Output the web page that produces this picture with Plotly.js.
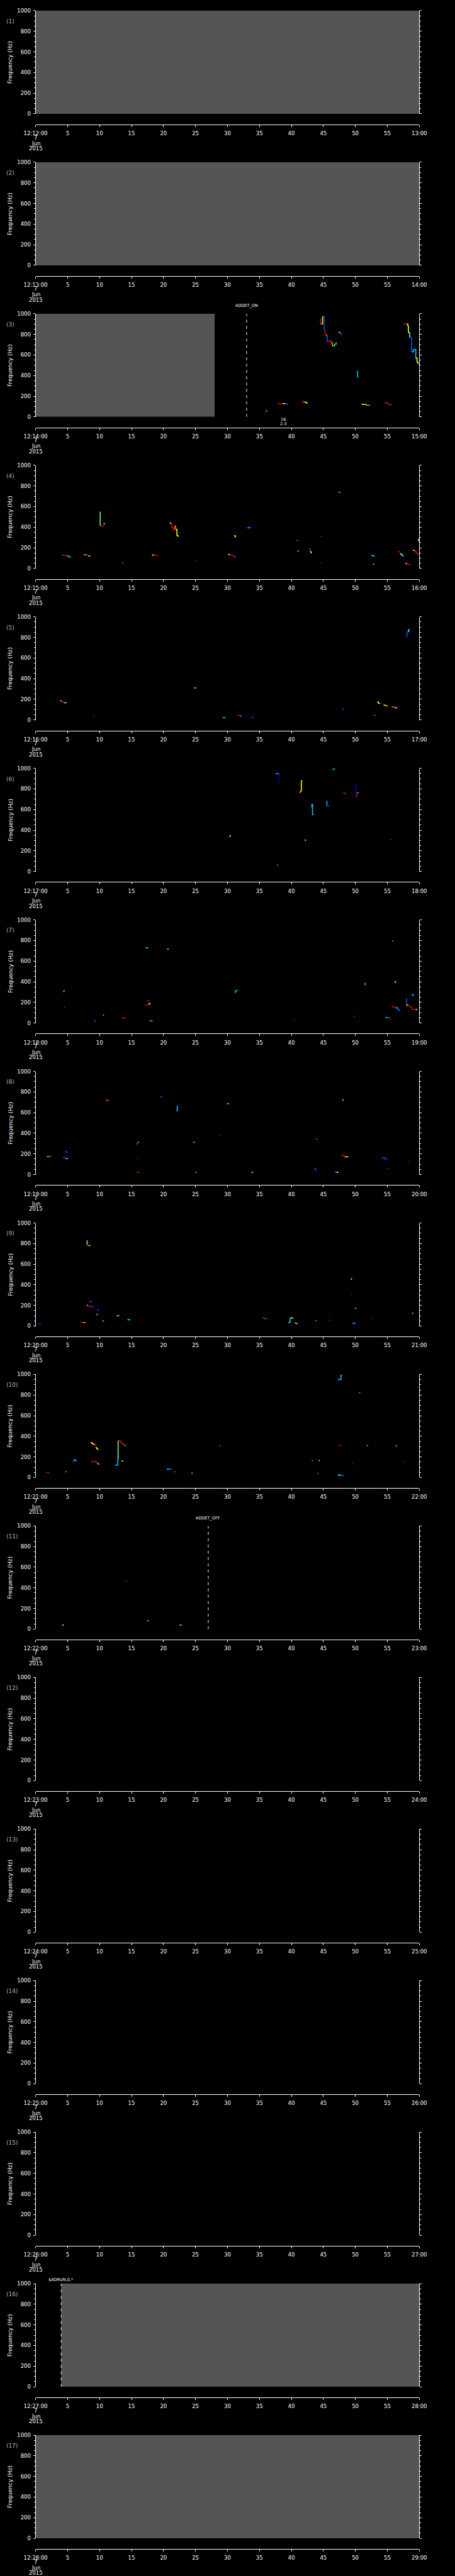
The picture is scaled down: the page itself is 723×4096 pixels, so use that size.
<!DOCTYPE html>
<html>
<head>
<meta charset="utf-8">
<script src="https://cdn.plot.ly/plotly-3.0.1.min.js"></script>
<style>html,body{margin:0;padding:0;background:#000;}#chart{width:723px;height:4096px;}</style>
</head>
<body>
<div id="chart"></div>
<script>
// ---------------- DATA ----------------
const panelNumbers = [1,2,3,4,5,6,7,8,9,10,11,12,13,14,15,16,17];
const panelMinutes = [12,13,14,15,16,17,18,19,20,21,22,23,24,25,26,27,28];
const tickSeconds = [0,5,10,15,20,25,30,35,40,45,50,55,60];
const tickMidLabels = ['5','10','15','20','25','30','35','40','45','50','55'];
const dateLines = ['7','Jun','2015'];
const freqTicks = [0,200,400,600,800,1000];

// missing-data (grey) intervals, seconds
const gapPanels = [1,2,3,16,17];
const gapStart  = [0,0,0,4,0];
const gapEnd    = [60,60,28,60,60];

// event markers
const eventPanels = [3,11,16];
const eventTimes  = [33,27,4];
const eventLabels = ['ADDET_ON','ADDET_OFF','$ADRUN,0,*'];

// small note below panel 3
const notePanel = 3;
const noteTime = 38.7;
const noteLines = ['16','2.3'];

// colour levels (jet-like)
const jetColors = ['#0000b4','#0050ff','#00c8ff','#60ffa8','#ffff00','#ff9600','#d20000'];

// tracks: [seconds, frequency Hz, colour level]
const tracks3 = [
 [[44.5,945,6],[44.55,900,2],[44.85,900,4],[44.87,970,5],[45.1,970,1],[45.12,845,6],[45.25,800,6],[45.4,790,2],[45.55,780,1],[45.6,730,1],[45.75,730,6],[45.95,740,6],[46.2,720,5],[46.4,690,5],[46.6,690,3],[46.75,705,2],[47.0,725,2]],
 [[47.35,820,5],[47.55,812,1],[47.75,795,0],[47.9,785,0]],
 [[50.3,385,2],[50.35,448,0]],
 [[57.5,900,6],[57.75,905,6],[58.0,900,4],[58.2,880,4],[58.3,815,3],[58.5,770,1],[58.75,770,1],[58.8,630,2],[59.0,630,2],[59.1,655,2],[59.4,655,2],[59.45,570,4],[59.65,530,4],[59.8,515,1],[60,510,1]],
 [[36.0,55,2],[36.1,65,2]],
 [[37.9,129,6],[38.6,129,4],[39.0,125,1],[39.4,120,0]],
 [[41.65,150,6],[41.9,143,5],[42.2,140,4],[42.4,130,1],[42.55,128,1]],
 [[51.0,122,4],[51.4,122,5],[51.7,112,2],[52.3,112,2]],
 [[54.5,136,6],[55.05,125,6],[55.3,117,1],[55.6,112,1]]
];
const tracks4 = [
 [[4.1,129,1],[4.3,125,6],[4.9,120,2],[5.2,110,2],[5.45,107,1]],
 [[7.55,132,5],[7.9,130,6],[8.2,122,3],[8.45,114,2]],
 [[10.05,545,3],[10.1,412,6],[10.4,408,6],[10.75,408,6]],
 [[10.6,432,4],[10.75,440,4]],
 [[11.15,595,0],[11.25,585,0]],
 [[13.55,54,2],[13.7,54,2]],
 [[18.2,129,4],[18.5,129,6],[18.85,123,6],[19.1,119,1]],
 [[21.05,447,3],[21.1,430,6],[21.3,395,6],[21.5,372,6],[21.7,408,5],[21.9,378,4],[22.1,315,4],[22.3,308,1]],
 [[25.1,76,1],[25.25,76,1]],
 [[30.1,136,4],[30.3,129,6],[30.7,125,6],[30.95,115,1],[31.2,103,1]],
 [[31.05,315,4],[31.25,300,1]],
 [[32.95,394,6],[33.2,394,2],[33.5,400,0],[33.65,423,0]],
 [[40.75,272,1],[41.1,272,1]],
 [[40.95,168,4],[41.15,168,4]],
 [[42.85,189,1],[42.95,160,4],[43.1,145,3]],
 [[44.6,54,1],[44.75,54,1]],
 [[44.5,311,6],[44.75,311,5]],
 [[47.35,738,5],[47.65,738,6]],
 [[52.45,125,2],[52.8,120,2],[52.95,112,1]],
 [[52.75,40,4],[52.9,38,4]],
 [[56.65,162,6],[56.9,160,6],[57.0,140,3],[57.25,125,2],[57.5,115,2]],
 [[57.8,48,5],[58.0,40,6],[58.3,37,6],[58.55,36,1]],
 [[59.0,175,4],[59.2,170,6],[59.45,150,6],[59.7,140,6],[59.9,136,6],[60,139,2]],
 [[59.8,283,3],[59.9,262,2]]
];
const tracks5 = [
 [[3.85,186,3],[4.0,178,6],[4.25,172,6],[4.45,165,3],[4.6,168,4],[4.75,172,1]],
 [[9.0,39,1],[9.1,36,0]],
 [[24.7,312,1],[24.9,310,4],[25.0,305,3]],
 [[29.2,23,2],[29.7,23,2]],
 [[31.5,43,6],[31.95,40,2],[32.2,39,2]],
 [[33.75,23,1],[34.1,23,1]],
 [[47.9,105,1],[48.25,105,1]],
 [[52.8,44,1],[53.2,44,1]],
 [[53.45,175,4],[53.6,160,4],[53.8,155,1]],
 [[54.4,143,4],[54.7,137,5],[54.95,130,1],[55.05,128,1]],
 [[55.7,126,5],[55.9,124,6],[56.1,120,4],[56.4,115,1],[56.6,117,1]],
 [[58.0,809,1],[58.05,840,1],[58.2,860,3],[58.35,878,1],[58.55,875,1]]
];
const tracks6 = [
 [[30.15,337,1],[30.35,345,4],[30.55,345,5]],
 [[37.55,948,2],[37.9,948,2],[38.0,945,0],[38.05,863,0]],
 [[37.75,63,2],[37.9,63,1]],
 [[41.3,765,5],[41.4,780,4],[41.55,880,4],[41.65,878,3]],
 [[42.1,305,3],[42.2,295,2]],
 [[43.1,628,2],[43.2,652,2],[43.3,550,2],[43.45,548,2]],
 [[45.5,681,2],[45.55,635,6],[45.7,632,1],[45.95,632,1]],
 [[46.45,988,2],[46.6,998,2],[46.8,1000,2]],
 [[48.05,762,6],[48.25,758,6],[48.4,750,1],[48.5,745,2]],
 [[50.05,839,0],[50.1,725,1],[50.2,730,6],[50.25,765,5],[50.45,767,5]],
 [[55.4,311,6],[55.65,311,1]]
];
const tracks7 = [
 [[4.3,304,5],[4.4,312,4],[4.55,312,3]],
 [[4.4,155,1],[4.6,155,2]],
 [[9.15,20,1],[9.45,20,2]],
 [[10.5,77,3],[10.7,77,4]],
 [[13.45,50,6],[13.75,46,6],[14.0,43,5]],
 [[17.1,175,6],[17.55,175,6],[17.65,190,4],[17.85,178,2]],
 [[17.45,215,1],[17.7,210,0]],
 [[17.2,730,2],[17.5,722,1]],
 [[17.85,21,2],[18.3,21,1]],
 [[20.5,717,2],[20.75,710,3]],
 [[31.15,297,2],[31.25,313,2],[31.6,313,3]],
 [[40.3,21,1],[40.45,21,1]],
 [[49.8,64,6],[50.0,64,6]],
 [[51.45,385,2],[51.55,365,1]],
 [[54.7,53,2],[55.1,52,6],[55.35,46,1],[55.55,46,1]],
 [[55.7,160,6],[55.95,152,6],[56.4,150,2],[56.55,135,1],[56.75,125,1],[56.95,115,0]],
 [[55.75,795,5],[55.85,790,6]],
 [[56.15,400,4],[56.3,390,1]],
 [[57.95,236,1],[58.0,172,4],[58.2,167,6],[58.5,155,6],[58.75,148,6],[58.85,132,6],[59.3,132,6],[59.4,130,4],[59.6,128,4]],
 [[58.8,275,2],[59.0,265,1],[59.1,261,1]]
];
const tracks8 = [
 [[1.75,174,5],[2.15,174,6],[2.25,177,3],[2.4,177,2]],
 [[4.3,168,1],[4.45,157,6],[4.65,155,2],[5.1,155,1]],
 [[4.65,225,1],[4.75,222,1],[4.85,206,1]],
 [[10.95,726,6],[11.1,715,5],[11.3,712,1]],
 [[15.7,294,6],[15.85,305,1],[16.0,313,2],[16.2,313,2]],
 [[16.05,155,1],[16.15,155,1]],
 [[15.85,21,6],[16.25,21,1]],
 [[19.45,752,1],[19.85,752,1]],
 [[22.05,616,2],[22.15,665,1],[22.25,665,1]],
 [[24.65,312,2],[24.85,310,1]],
 [[25.0,21,2],[25.2,21,2]],
 [[28.7,383,1],[28.9,383,2]],
 [[29.75,686,6],[30.05,686,4],[30.25,686,5]],
 [[33.75,21,3],[34.0,21,2]],
 [[43.6,56,1],[43.75,46,1],[43.95,50,1]],
 [[43.9,344,2],[44.05,344,1]],
 [[46.75,21,1],[47.05,21,4],[47.35,21,1]],
 [[48.0,730,2],[48.05,712,2]],
 [[47.9,187,6],[48.1,178,6],[48.35,172,4],[48.6,173,3],[48.85,177,3]],
 [[54.15,160,1],[54.5,160,1],[54.7,150,1],[54.9,145,0],[55.05,145,0]],
 [[55.05,56,1],[55.25,56,2]],
 [[58.35,127,1],[58.45,125,0]]
];
const tracks9 = [
 [[0.45,24,1],[0.85,24,2]],
 [[7.0,36,6],[7.35,35,5],[7.6,32,5],[7.85,32,4]],
 [[8.0,828,3],[8.05,785,6],[8.25,781,4],[8.55,781,5]],
 [[8.35,236,1],[8.55,242,1],[8.75,247,1]],
 [[8.0,203,5],[8.1,195,6],[8.35,191,6],[8.7,186,1],[9.0,188,1]],
 [[9.6,158,1],[9.8,165,1]],
 [[9.5,112,2],[9.65,105,1]],
 [[10.45,49,3],[10.7,49,3]],
 [[12.65,100,5],[13.1,100,5]],
 [[14.35,62,2],[14.8,62,1]],
 [[35.45,79,6],[35.75,70,1],[36.3,70,0]],
 [[39.5,36,2],[39.8,79,3],[39.9,79,4],[40.2,72,4]],
 [[39.75,2,2],[39.85,2,2]],
 [[40.55,29,4],[40.75,22,1],[41.1,22,0]],
 [[43.75,53,2],[43.95,53,2]],
 [[45.95,57,1],[46.1,57,1]],
 [[49.25,452,5],[49.4,465,5]],
 [[49.35,311,6],[49.5,311,1]],
 [[49.9,172,5],[50.15,172,1]],
 [[49.6,29,2],[49.8,22,1],[50.1,22,1]],
 [[52.6,79,1],[52.75,79,1]],
 [[58.85,125,2],[59.0,118,3]]
];
const tracks10 = [
 [[1.6,50,6],[1.9,47,6],[2.1,43,5]],
 [[4.65,56,4],[4.8,56,4]],
 [[5.85,155,1],[5.95,172,2],[6.15,172,2],[6.25,155,1]],
 [[8.6,340,4],[8.8,330,4],[8.95,322,4],[9.2,322,6],[9.4,290,4],[9.55,278,4],[9.7,271,1],[9.95,271,1]],
 [[8.7,150,1],[8.8,158,6],[9.3,155,6],[9.5,143,6],[9.65,135,4],[9.8,128,1],[9.95,132,1]],
 [[12.4,120,2],[12.75,120,2],[12.85,185,3],[12.9,360,6],[13.1,355,6],[13.3,338,6],[13.5,328,6],[13.75,318,6],[13.85,312,2],[14.05,304,1]],
 [[13.45,160,4],[13.65,155,3]],
 [[20.5,81,2],[20.95,81,1],[21.3,81,1]],
 [[21.7,56,5],[21.85,56,5]],
 [[24.4,43,4],[24.55,43,2]],
 [[28.75,305,1],[28.9,315,0]],
 [[47.2,935,0],[47.3,950,2],[47.55,952,2],[47.75,995,2],[47.85,1000,2]],
 [[50.6,824,2],[50.7,818,2]],
 [[47.3,312,6],[47.75,312,6]],
 [[43.2,165,2],[43.35,165,3]],
 [[44.25,165,3],[44.45,165,3]],
 [[44.1,39,2],[44.25,39,3]],
 [[47.3,25,3],[47.6,20,1],[48.2,20,1]],
 [[49.45,142,6],[49.6,142,3]],
 [[50.5,95,0],[50.6,90,1]],
 [[51.75,311,5],[52.0,311,5]],
 [[56.3,311,5],[56.4,300,1]],
 [[57.4,155,1],[57.55,155,1]]
];
const tracks11 = [
 [[4.15,39,4],[4.4,39,2]],
 [[14.1,462,1],[14.2,458,0]],
 [[17.4,82,2],[17.65,77,2]],
 [[22.5,39,4],[22.65,39,2],[22.9,39,1]]
];
const trackPanels = [3,4,5,6,7,8,9,10,11];
const trackSets = [tracks3,tracks4,tracks5,tracks6,tracks7,tracks8,tracks9,tracks10,tracks11];

// ---------------- LAYOUT GEOMETRY ----------------
const W = 723, H = 4096, S = 0.705;
const BLOCK = H / 17;
const FONT = 'DejaVu Sans, Liberation Sans, Arial, sans-serif';
const X0 = 80.3 * S / W, X1 = 945 * S / W;
const py = v => 1 - v / H;
const xid = k => (k === 1 ? 'x' : 'x' + k);
const yid = k => (k === 1 ? 'y' : 'y' + k);
const xkey = k => (k === 1 ? 'xaxis' : 'xaxis' + k);
const ykey = k => (k === 1 ? 'yaxis' : 'yaxis' + k);

const data = [];
const layout = {
  width: W, height: H,
  margin: {l:0, r:0, t:0, b:0},
  paper_bgcolor: '#000', plot_bgcolor: '#000',
  showlegend: false,
  annotations: [],
  font: {family: FONT, color: '#fff'}
};

panelNumbers.forEach((k, i) => {
  const top = i * BLOCK;
  const plotTop = top + 24.1 * S;
  const plotBot = top + 256.7 * S;
  const axisY = top + 280.5 * S;
  const mm = panelMinutes[i];
  layout[xkey(k)] = {
    domain: [X0, X1], anchor: 'free', position: py(axisY),
    range: [0, 60], fixedrange: true,
    showline: true, linecolor: '#fff', linewidth: 1,
    ticks: 'outside', ticklen: 3, tickwidth: 1, tickcolor: '#fff',
    tickmode: 'array', tickvals: tickSeconds,
    ticktext: ['12:' + mm + ':00'].concat(tickMidLabels, [(mm + 1) + ':00']),
    tickfont: {family: FONT, size: 8.5, color: '#fff'},
    ticklabelstandoff: 3,
    showgrid: false, zeroline: false
  };
  layout[ykey(k)] = {
    domain: [py(plotBot), py(plotTop)], anchor: xid(k),
    range: [0, 1000], fixedrange: true,
    showline: true, linecolor: '#fff', linewidth: 1, mirror: 'ticks',
    ticks: 'outside', ticklen: 3, tickwidth: 1, tickcolor: '#fff',
    tickmode: 'array', tickvals: freqTicks,
    minor: {dtick: 50, tick0: 0, ticks: 'outside', ticklen: 2, tickcolor: '#fff', tickwidth: 1, showgrid: false},
    tickfont: {family: FONT, size: 8.5, color: '#fff'},
    ticklabelstandoff: 2,
    showgrid: false, zeroline: false
  };
  // empty trace so every subplot is created
  data.push({type:'scatter', mode:'lines', xaxis: xid(k), yaxis: yid(k), x:[null], y:[null], hoverinfo:'skip'});
  // panel label
  layout.annotations.push({xref:'paper', yref:'paper', x: 11*S/W, y: py(top + 48*S), xanchor:'left', yanchor:'middle',
    text:'(' + k + ')', showarrow:false, font:{family:FONT, size:9, color:'#b4b4b4'}});
  // y title
  layout.annotations.push({xref:'paper', yref:'paper', x: 23*S/W, y: py((plotTop + plotBot)/2), xanchor:'center', yanchor:'middle',
    text:'Frequency (Hz)', textangle:-90, showarrow:false, font:{family:FONT, size:9, color:'#fff'}});
  // date under first tick
  const dateY = [310, 322.7, 334.5];
  dateLines.forEach((t, j) => {
    layout.annotations.push({xref: xid(k), yref:'paper', x: 0, y: py(top + dateY[j]*S), xanchor:'center', yanchor:'middle',
      text: t, showarrow:false, font:{family:FONT, size:8.5, color:'#fff'}});
  });
});

// grey missing-data blocks
gapPanels.forEach((k, j) => {
  const s = gapStart[j], e = gapEnd[j];
  data.push({type:'scatter', mode:'lines', xaxis: xid(k), yaxis: yid(k),
    x:[s, e, e, s, s], y:[0, 0, 1000, 1000, 0], fill:'toself', fillcolor:'#555555',
    line:{width:0, color:'#555555'}, hoverinfo:'skip'});
});

// tracks, one trace per colour level per panel
trackPanels.forEach((k, j) => {
  const tracks = trackSets[j];
  const xs = jetColors.map(() => []), ys = jetColors.map(() => []);
  tracks.forEach(tr => {
    for (let n = 0; n < tr.length - 1; n++) {
      const c = tr[n][2];
      xs[c].push(tr[n][0], tr[n+1][0], null);
      ys[c].push(tr[n][1], tr[n+1][1], null);
    }
  });
  jetColors.forEach((col, c) => {
    if (!xs[c].length) return;
    data.push({type:'scatter', mode:'lines', xaxis: xid(k), yaxis: yid(k),
      x: xs[c], y: ys[c], connectgaps:false,
      line:{color: col, width: 1.6, shape:'hv'}, hoverinfo:'skip'});
  });
});

// event markers
eventPanels.forEach((k, j) => {
  const t = eventTimes[j];
  data.push({type:'scatter', mode:'lines', xaxis: xid(k), yaxis: yid(k),
    x:[t, t], y:[0, 1000], line:{color:'#fff', width:1, dash:'4.5px,5.5px'}, hoverinfo:'skip'});
  const top = (k - 1) * BLOCK;
  const ly = eventLabels[j].startsWith('$') ? top + 15.7*S : top + 6.4*S;
  layout.annotations.push({xref: xid(k), yref:'paper', x: t, y: py(ly), xanchor:'center', yanchor:'middle',
    text: eventLabels[j], showarrow:false, font:{family:FONT, size:6.5, color:'#fff'}});
});

// note under panel 3
{
  const top = (notePanel - 1) * BLOCK;
  const ny = [263.1, 272.7];
  noteLines.forEach((t, j) => {
    layout.annotations.push({xref: xid(notePanel), yref:'paper', x: noteTime, y: py(top + ny[j]*S), xanchor:'center', yanchor:'middle',
      text: t, showarrow:false, font:{family:FONT, size:6.5, color:'#fff'}});
  });
}

Plotly.newPlot('chart', data, layout, {staticPlot:true, displayModeBar:false});
</script>
</body>
</html>
